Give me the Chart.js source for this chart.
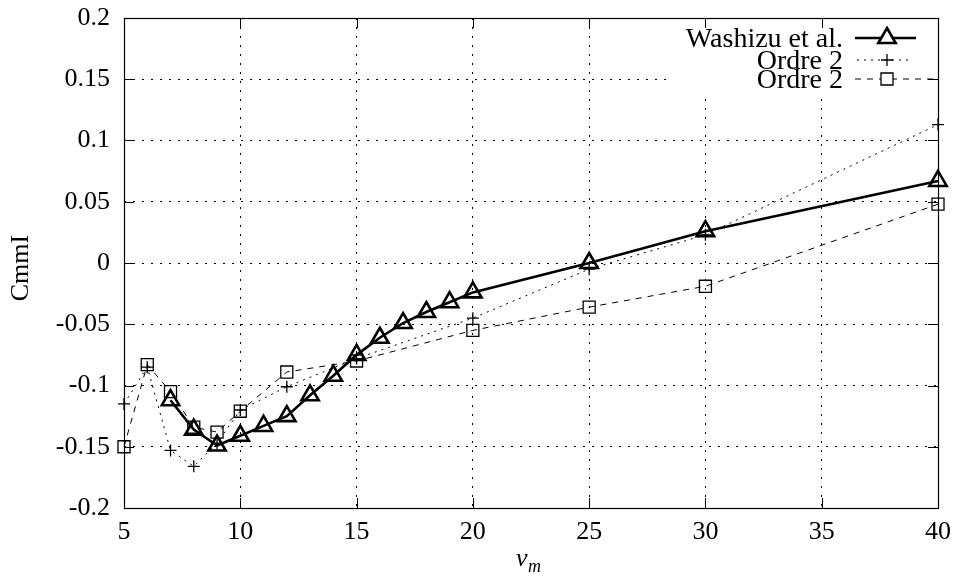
<!DOCTYPE html>
<html>
<head>
<meta charset="utf-8">
<script src="https://cdn.jsdelivr.net/npm/chart.js@4"></script>
<style>
  html, body { margin: 0; padding: 0; background: #fff; }
  #wrap { width: 954px; height: 579px; }
</style>
</head>
<body>
<div id="wrap"><canvas id="chart" width="954" height="579"></canvas></div>
<script>
// values
const vWashizu = [7, 8, 9, 10, 11, 12, 13, 14, 15, 16, 17, 18, 19, 20, 25, 30, 40];
const cmWashizu = [-0.112, -0.136, -0.149, -0.141, -0.133, -0.125, -0.108, -0.092, -0.075, -0.061, -0.049, -0.040, -0.032, -0.024, 0.000, 0.026, 0.067];

const vOrdre = [5, 6, 7, 8, 9, 10, 12, 15, 20, 25, 30, 40];
const cmOrdrePlus = [-0.115, -0.085, -0.153, -0.166, -0.147, -0.120, -0.101, -0.078, -0.045, -0.005, 0.023, 0.113];
const cmOrdreSquare = [-0.150, -0.083, -0.105, -0.134, -0.138, -0.121, -0.089, -0.080, -0.055, -0.036, -0.019, 0.048];

const xTicks = [5, 10, 15, 20, 25, 30, 35, 40];
const yTicks = [-0.2, -0.15, -0.1, -0.05, 0, 0.05, 0.1, 0.15, 0.2];

const legendLabels = ['Washizu et al.', 'Ordre 2', 'Ordre 2'];

const FONT = "'Liberation Serif', 'DejaVu Serif', serif";

const toPoints = (xs, ys) => xs.map((x, i) => ({x: x, y: ys[i]}));

const fmtY = (v) => {
    if (Math.abs(v) < 1e-9) return '0';
    return String(Math.round(v * 100) / 100);
};

// gnuplot-like frame: inward ticks on all sides, key box cleared, axis titles
const gnuplotFrame = {
    id: 'gnuplotFrame',
    beforeDatasetsDraw(chart) {
        const {ctx, chartArea: a, scales: {x, y}} = chart;
        ctx.save();
        // key area is blanked out over the grid
        ctx.fillStyle = '#fff';
        ctx.fillRect(668, a.top + 1, a.right - 669, 75);
        ctx.strokeStyle = '#000';
        ctx.lineWidth = 1;
        ctx.beginPath();
        xTicks.forEach(v => {
            const px = Math.round(x.getPixelForValue(v)) + 0.5;
            ctx.moveTo(px, a.bottom); ctx.lineTo(px, a.bottom - 10);
            ctx.moveTo(px, a.top); ctx.lineTo(px, a.top + 10);
        });
        yTicks.forEach(v => {
            const py = Math.round(y.getPixelForValue(v)) + 0.5;
            ctx.moveTo(a.left, py); ctx.lineTo(a.left + 10, py);
            ctx.moveTo(a.right, py); ctx.lineTo(a.right - 10, py);
        });
        ctx.stroke();
        ctx.lineWidth = 1.2;
        ctx.strokeRect(a.left + 0.5, a.top + 0.5, a.right - a.left, a.bottom - a.top);
        ctx.restore();
    },
    afterDraw(chart) {
        const {ctx} = chart;
        ctx.save();
        ctx.fillStyle = '#000';
        // y title
        ctx.font = '26px ' + FONT;
        ctx.textAlign = 'center';
        ctx.textBaseline = 'middle';
        ctx.translate(21, 268);
        ctx.rotate(-Math.PI / 2);
        ctx.fillText('CmmI', 0, 0);
        ctx.setTransform(1, 0, 0, 1, 0, 0);
        // x title v_m
        ctx.textAlign = 'left';
        ctx.textBaseline = 'alphabetic';
        ctx.font = 'italic 26px ' + FONT;
        ctx.fillText('v', 516, 566);
        ctx.font = 'italic 18px ' + FONT;
        ctx.fillText('m', 528, 572);

        // key
        const ds = chart.data.datasets;
        const rows = [38, 60, 79];
        const ends = [[855, 916], [857, 909], [855, 938]];
        ctx.font = '28px ' + FONT;
        ctx.textAlign = 'right';
        ctx.textBaseline = 'middle';
        rows.forEach((ry, i) => {
            ctx.fillStyle = '#000';
            ctx.fillText(legendLabels[i], 843, ry + 2);
            const d = ds[i];
            ctx.strokeStyle = '#000';
            ctx.lineWidth = d.borderWidth;
            ctx.setLineDash(d.borderDash || []);
            ctx.beginPath();
            ctx.moveTo(ends[i][0], ry); ctx.lineTo(ends[i][1], ry);
            ctx.stroke();
            ctx.setLineDash([]);
            ctx.fillStyle = '#fff';
            ctx.lineWidth = d.pointBorderWidth;
            Chart.helpers.drawPoint(ctx, {pointStyle: d.pointStyle, rotation: 0, radius: d.pointRadius, borderWidth: d.pointBorderWidth}, 887, ry);
        });
        ctx.restore();
    }
};

const ctx = document.getElementById('chart').getContext('2d');
new Chart(ctx, {
    type: 'line',
    data: {
        datasets: [
            { label: legendLabels[0], data: toPoints(vWashizu, cmWashizu), borderColor: '#000', backgroundColor: '#fff', borderWidth: 2.6, pointStyle: 'triangle', pointRadius: 10, pointBorderWidth: 2.6, pointBackgroundColor: 'rgba(255,255,255,0)', pointBorderColor: '#000', clip: false, order: 0 },
            { label: legendLabels[1], data: toPoints(vOrdre, cmOrdrePlus), borderColor: '#000', borderWidth: 1, borderDash: [2, 5], pointStyle: 'cross', pointRadius: 6, pointBorderWidth: 1.3, pointBorderColor: '#000', clip: false, order: 1 },
            { label: legendLabels[2], data: toPoints(vOrdre, cmOrdreSquare), borderColor: '#000', borderWidth: 1, borderDash: [6, 6], pointStyle: 'rect', pointRadius: 8.5, pointBorderWidth: 1.3, pointBackgroundColor: 'rgba(255,255,255,0)', pointBorderColor: '#000', clip: false, order: 2 }
        ]
    },
    plugins: [gnuplotFrame],
    options: {
        responsive: false, animation: false, devicePixelRatio: 1,
        layout: { padding: { top: 18, right: 16, left: 0, bottom: 0 } },
        elements: { line: { tension: 0 } },
        scales: {
            x: {
                type: 'linear', min: 5, max: 40,
                afterFit: (s) => { s.height = 71; s.paddingLeft = 0; s.paddingRight = 0; },
                afterBuildTicks: (s) => { s.ticks = xTicks.map(v => ({value: v})); },
                border: { display: false, dash: [2, 7] },
                grid: { color: '#000', lineWidth: 1, drawTicks: false },
                ticks: { color: '#000', padding: 9, font: { family: FONT, size: 26 }, maxRotation: 0 }
            },
            y: {
                type: 'linear', min: -0.2, max: 0.2,
                afterFit: (s) => { s.width = 124; s.paddingTop = 0; s.paddingBottom = 0; },
                afterBuildTicks: (s) => { s.ticks = yTicks.map(v => ({value: v})); },
                border: { display: false, dash: [2, 7] },
                grid: { color: '#000', lineWidth: 1, drawTicks: false },
                ticks: { color: '#000', padding: 14, font: { family: FONT, size: 26 }, callback: (v) => fmtY(v) }
            }
        },
        plugins: { legend: { display: false }, tooltip: { enabled: false } }
    }
});
</script>
</body>
</html>
